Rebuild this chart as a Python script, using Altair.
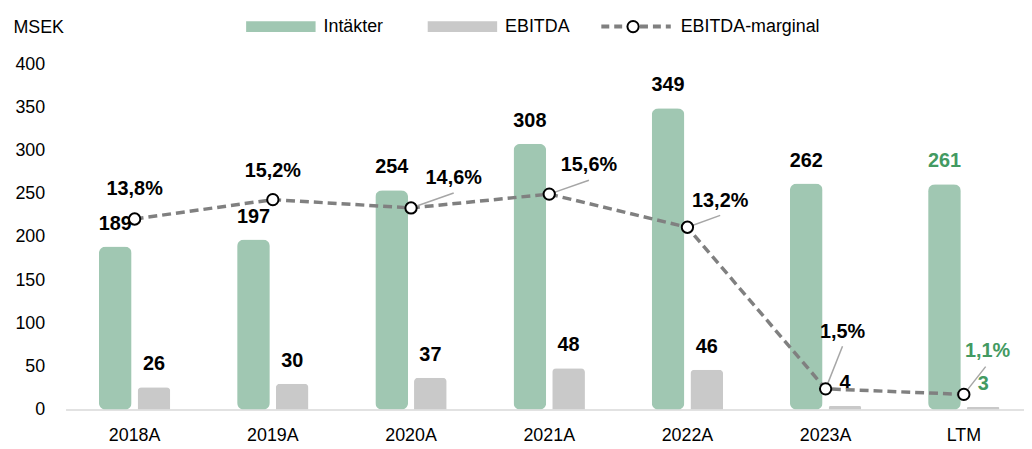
import altair as alt
import pandas as pd

# ---- data ----
categories = ["2018A", "2019A", "2020A", "2021A", "2022A", "2023A", "LTM"]
intakter = [189, 197, 254, 308, 349, 262, 261]
ebitda = [26, 30, 37, 48, 46, 4, 3]
marginal = [13.8, 15.2, 14.6, 15.6, 13.2, 1.5, 1.1]
series_names = ["Intäkter", "EBITDA"]
line_name = "EBITDA-marginal"
marker_name = "marker"

# ---- styling / annotation placement ----
GREEN = "#a0c7b2"
GRAY = "#c9c9c9"
LINEC = "#808080"
LEADER = "#a6a6a6"
TXTGREEN = "#439a62"
FONT = "Liberation Sans"

# label centre offset (px) relative to the marker, and leader-line end offsets
label_offsets = {"2018A": (0, -31), "2019A": (0, -30), "2020A": (43, -31),
                 "2021A": (40, -30), "2022A": (33, -27), "2023A": (17, -58),
                 "LTM": (24, -45)}
leader_ends = {"2020A": (43, -15), "2021A": (40, -14), "2022A": (33, -12),
               "2023A": (17, -43), "LTM": (22, -28)}

bars_df = pd.DataFrame({
    "cat": categories * 2,
    "series": [series_names[0]] * len(categories) + [series_names[1]] * len(categories),
    "value": intakter + ebitda,
})
line_df = pd.DataFrame({"cat": categories, "m": marginal,
                        "name": line_name, "pt": marker_name})

x = alt.X("cat:N", sort=categories,
          scale=alt.Scale(range=[0, 975], paddingInner=0.44, paddingOuter=0.22),
          axis=alt.Axis(title=None, labelAngle=0, labelFontSize=18, labelFont=FONT,
                        labelColor="black", labelPadding=17, ticks=False,
                        domainColor="#d9d9d9", domainWidth=1.5))

y = alt.Y("value:Q", scale=alt.Scale(domain=[0, 400]),
          axis=alt.Axis(values=list(range(0, 401, 50)), title="MSEK", titleAngle=0,
                        titleX=-53, titleY=-32, titleAlign="left",
                        titleBaseline="alphabetic", titleFontWeight="normal",
                        titleFontSize=18, titleFont=FONT, titleColor="black",
                        labelFontSize=18, labelFont=FONT, labelColor="black",
                        labelPadding=21, domain=False, ticks=False, grid=False))

xoff = alt.XOffset("series:N", sort=series_names,
                   scale=alt.Scale(domain=series_names, paddingInner=0.154, paddingOuter=0.077))

color = alt.Color("series:N", sort=series_names,
                  scale=alt.Scale(domain=series_names, range=[GREEN, GRAY]),
                  legend=alt.Legend(title=None, orient="none", legendX=182, legendY=-73,
                                    direction="horizontal",
                                    symbolType="M-1,-0.157H1V0.157H-1Z", symbolSize=4900,
                                    symbolStrokeWidth=0, labelFontSize=18, labelFont=FONT,
                                    labelColor="black", labelOffset=8, columnPadding=44,
                                    padding=0))

base_bars = alt.Chart(bars_df)
green_bars = base_bars.transform_filter(alt.datum.series == series_names[0]).mark_bar(
    cornerRadius=7).encode(x=x, xOffset=xoff, y=y, color=color)
gray_bars = base_bars.transform_filter(alt.datum.series == series_names[1]).mark_bar(
    cornerRadiusTopLeft=4, cornerRadiusTopRight=4).encode(x=x, xOffset=xoff, y=y, color=color)
bar_text = base_bars.mark_text(font=FONT, fontSize=20, fontWeight="bold",
                               baseline="alphabetic", dy=-17).encode(
    x=x, xOffset=xoff, y=y, text=alt.Text("value:Q"),
    color=alt.condition(alt.datum.cat == "LTM", alt.value(TXTGREEN), alt.value("black")))

bars_layer = alt.layer(green_bars, gray_bars, bar_text)

ym = alt.Y("m:Q", scale=alt.Scale(domain=[0, 25]), axis=None)

base_line = alt.Chart(line_df)
line = base_line.mark_line(strokeDash=[9, 5], strokeWidth=3.5).encode(
    x=x, y=ym,
    stroke=alt.Stroke("name:N", scale=alt.Scale(domain=[line_name], range=[LINEC]),
                      legend=alt.Legend(title=None, orient="none", legendX=538, legendY=-75,
                                        symbolType="M-1,0H1", symbolSize=4900,
                                        symbolStrokeWidth=4, symbolDash=[8, 5],
                                        labelFontSize=18, labelFont=FONT,
                                        labelColor="black", labelOffset=8, padding=0)))

leaders = []
for c, (ex, ey) in leader_ends.items():
    leaders.append(base_line.transform_filter(alt.datum.cat == c).mark_rule(
        color=LEADER, strokeWidth=1.5, x2Offset=ex, y2Offset=ey).encode(
        x=x, y=ym, x2="cat:N", y2="m:Q"))

points = base_line.mark_point(filled=True, stroke="black", strokeWidth=2,
                              size=130, opacity=1, shape="circle").encode(
    x=x, y=ym,
    fill=alt.Fill("pt:N", scale=alt.Scale(domain=[marker_name], range=["white"]),
                  legend=alt.Legend(title=None, orient="none", legendX=565, legendY=-45,
                                    symbolType="circle", symbolStrokeColor="black",
                                    symbolStrokeWidth=2, symbolSize=130,
                                    symbolOpacity=1,
                                    labelExpr="''", padding=0)))

labels = []
for c, (dx, dy) in label_offsets.items():
    labels.append(base_line.transform_filter(alt.datum.cat == c).transform_calculate(
        lbl="replace(format(datum.m, '.1f'), '.', ',') + '%'").mark_text(
        font=FONT, fontSize=20, fontWeight="bold", baseline="alphabetic",
        dx=dx, dy=dy + 7).encode(
        x=x, y=ym, text="lbl:N",
        color=alt.condition(alt.datum.cat == "LTM", alt.value(TXTGREEN), alt.value("black"))))

line_layer = alt.layer(line, *leaders, points, *labels)

chart = alt.layer(bars_layer, line_layer).resolve_scale(y="independent").properties(
    width=966, height=348,
    autosize=alt.AutoSizeParams(type="none"),
    padding={"left": 58, "top": 55, "right": 0, "bottom": 38},
).configure_view(stroke=None)

chart.save("out.html", embed_options={"renderer": "svg", "actions": False})
